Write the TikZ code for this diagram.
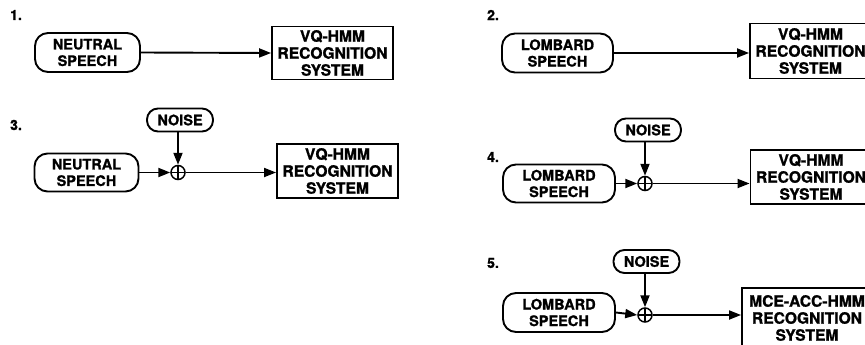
\documentclass[tikz,border=0pt]{standalone}
\usepackage{fontspec}
\setmainfont{TeX Gyre Heros}[BoldFeatures={FakeBold=1.2}]
\usetikzlibrary{arrows.meta}
\tikzset{
  lbl/.style={font=\fontsize{14}{16}\selectfont\bfseries, inner sep=0pt},
  src/.style={draw, line width=1.9pt, rounded corners=13pt, align=center,
    font=\fontsize{14.5}{16.5}\selectfont\bfseries, inner sep=0pt},
  noisebox/.style={draw, line width=1.9pt, rounded corners=11pt, align=center,
    font=\fontsize{14.5}{16.5}\selectfont\bfseries, inner sep=0pt, minimum width=66pt, minimum height=23pt},
  sysbox/.style={draw, line width=1.9pt, align=center,
    font=\fontsize{15.6}{17}\selectfont\bfseries, inner sep=0pt},
  sumnode/.style={circle, draw, line width=1.5pt, minimum size=14pt, inner sep=0pt,
    path picture={\draw[line width=1.4pt] (path picture bounding box.north) -- (path picture bounding box.south)
      (path picture bounding box.west) -- (path picture bounding box.east);}},
  conn/.style={line width=1.9pt, -{Triangle[length=12pt,width=9pt]}},
}
\begin{document}
\begin{tikzpicture}[x=1pt,y=-1pt]
\useasboundingbox (0,0) rectangle (865,345);
\clip (0,0) rectangle (865,345);
% Panel 1
\node[lbl] (l1) at (16,15) {1.};
\node[src, minimum width=105pt, minimum height=39pt] (ns1) at (87.5,52.5) {NEUTRAL\\SPEECH};
\node[sysbox, minimum width=121pt, minimum height=53pt] (vq1) at (332.5,53) {VQ-HMM\\RECOGNITION\\SYSTEM};
\draw[conn] (ns1.east) -- (vq1.west);
% Panel 3
\node[lbl] (l3) at (16,125) {3.};
\node[noisebox] (nz3) at (180,120) {NOISE};
\node[src, minimum width=104pt, minimum height=38pt] (ns3) at (86.5,172.5) {NEUTRAL\\SPEECH};
\node[sumnode] (s3) at (178,172.5) {};
\node[sysbox, minimum width=121pt, minimum height=54pt] (vq3) at (337.5,171) {VQ-HMM\\RECOGNITION\\SYSTEM};
\draw[conn] (ns3.east) -- (s3.west);
\draw[conn] (s3.north |- nz3.south) -- (s3.north);
\draw[conn] (s3.east) -- (s3.east -| vq3.west);
% Panel 2
\node[lbl] (l2) at (493,15) {2.};
\node[src, minimum width=111pt, minimum height=39pt] (lb2) at (557.5,53) {LOMBARD\\SPEECH};
\node[sysbox, minimum width=121pt, minimum height=55pt] (vq2) at (810.5,51) {VQ-HMM\\RECOGNITION\\SYSTEM};
\draw[conn] (lb2.east) -- (lb2.east -| vq2.west);
% Panel 4
\node[lbl] (l4) at (493,157) {4.};
\node[noisebox] (nz4) at (648,130) {NOISE};
\node[src, minimum width=112pt, minimum height=38pt] (lb4) at (559,183.5) {LOMBARD\\SPEECH};
\node[sumnode] (s4) at (645,183.5) {};
\node[sysbox, minimum width=121pt, minimum height=54pt] (vq4) at (811,177) {VQ-HMM\\RECOGNITION\\SYSTEM};
\draw[conn] (lb4.east) -- (s4.west);
\draw[conn] (s4.north |- nz4.south) -- (s4.north);
\draw[conn] (s4.east) -- (s4.east -| vq4.west);
% Panel 5
\node[lbl] (l5) at (493,263) {5.};
\node[noisebox] (nz5) at (646.5,261.5) {NOISE};
\node[src, minimum width=112pt, minimum height=39pt] (lb5) at (559,312.5) {LOMBARD\\SPEECH};
\node[sumnode] (s5) at (645,315) {};
\node[sysbox, minimum width=130pt, minimum height=60pt] (mce5) at (807,318) {MCE-ACC-HMM\\RECOGNITION\\SYSTEM};
\draw[conn] (lb5.east) -- (s5.west);
\draw[conn] (s5.north |- nz5.south) -- (s5.north);
\draw[conn] (s5.east) -- (s5.east -| mce5.west);
\end{tikzpicture}
\end{document}
